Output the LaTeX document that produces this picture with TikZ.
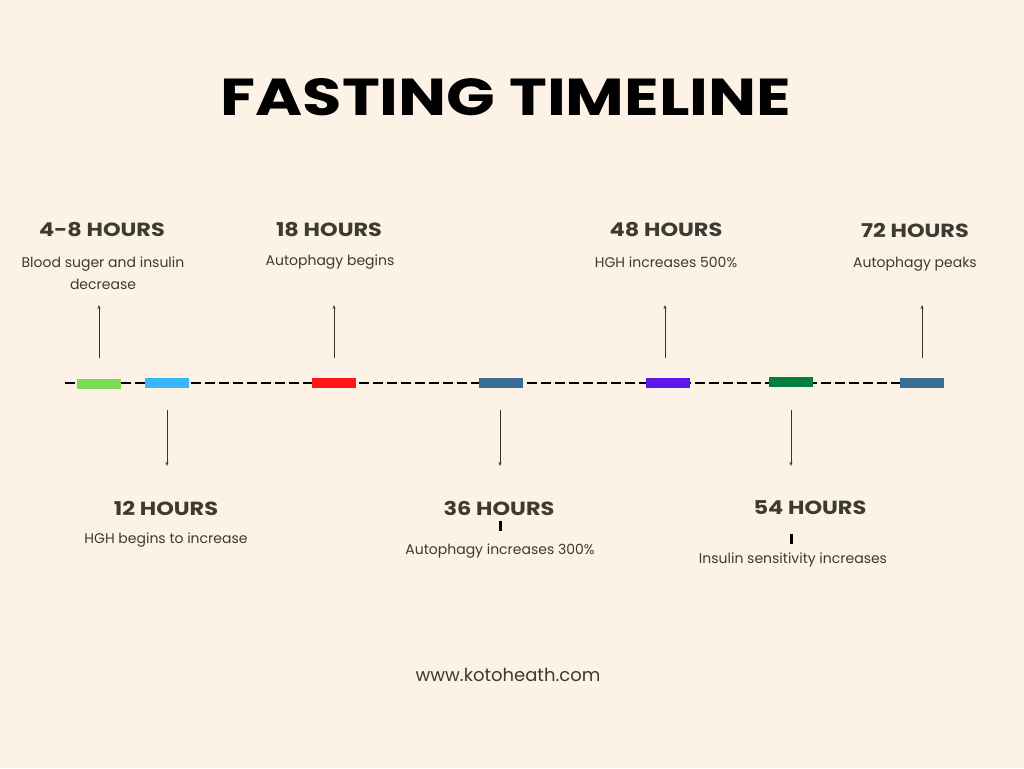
\documentclass[tikz,border=0pt]{standalone}
\usepackage{fontspec}
\usepackage{graphicx}
\setmainfont{Poppins}
\usetikzlibrary{arrows.meta}
\definecolor{bg}{HTML}{FDF2E6}
\definecolor{txt}{HTML}{3B3B32}
\definecolor{cgreen}{HTML}{7ED957}
\definecolor{cblue}{HTML}{38B6FF}
\definecolor{cred}{HTML}{FF1616}
\definecolor{csteel}{HTML}{3A6D96}
\definecolor{cpurple}{HTML}{5E17EB}
\definecolor{cdgreen}{HTML}{00803C}
\definecolor{arr}{HTML}{3A302C}
\newcommand\wideH[1]{\scalebox{1.18}[1]{#1}}
\newcommand\wideT[1]{\scalebox{1.23}[1]{#1}}
\begin{document}
\begin{tikzpicture}[x=1pt,y=-1pt,
  bar/.style={draw=none,minimum width=44pt,minimum height=10pt,inner sep=0pt},
  head/.style={font=\fontsize{19}{22}\selectfont\bfseries,text=txt,inner sep=0pt},
  desc/.style={font=\fontsize{14}{22}\selectfont,text=txt,inner sep=0pt,align=center},
  uparr/.style={arr,line width=0.9pt,-{Stealth[length=4pt,width=3pt]}},
  tick/.style={black,line width=3pt}]
\fill[bg] (0,0) rectangle (1024,768);
\useasboundingbox (0,0) rectangle (1024,768);
\node[font=\fontsize{52}{60}\selectfont\bfseries,inner sep=0pt] (title) at (506,97) {\wideT{FASTING TIMELINE}};
% timeline
\coordinate (ls) at (65,383);
\coordinate (le) at (945,383);
\draw[black,line width=2pt,dash pattern=on 10pt off 4pt] (ls) -- (le);
\node[bar,fill=cgreen] (b1) at (99,383.5) {};
\node[bar,fill=cblue] (b2) at (167,383) {};
\node[bar,fill=cred] (b3) at (334,383) {};
\node[bar,fill=csteel] (b4) at (501,383) {};
\node[bar,fill=cpurple] (b5) at (668,383) {};
\node[bar,fill=cdgreen] (b6) at (791,382) {};
\node[bar,fill=csteel] (b7) at (922,383) {};
% top labels
\node[head] (h1) at (102,230) {\wideH{4-8 HOURS}};
\node[desc] (d1) at (103,273) {Blood suger and insulin\\decrease};
\node[head] (h3) at (329,230) {\wideH{18 HOURS}};
\node[desc] (d3) at (330,262) {Autophagy begins};
\node[head] (h5) at (666,230) {\wideH{48 HOURS}};
\node[desc] (d5) at (666,262) {HGH increases 500\%};
\node[head] (h7) at (915,230) {\wideH{72 HOURS}};
\node[desc] (d7) at (915,264) {Autophagy peaks};
% bottom labels
\node[head] (h2) at (166,508) {\wideH{12 HOURS}};
\node[desc] (d2) at (166,540) {HGH begins to increase};
\node[head] (h4) at (499,508) {\wideH{36 HOURS}};
\node[desc] (d4) at (500,551) {Autophagy increases 300\%};
\node[head] (h6) at (810,508) {\wideH{54 HOURS}};
\node[desc] (d6) at (793,560) {Insulin sensitivity increases};
% arrows
\coordinate (u1) at (99,305); \coordinate (s1) at (99,358);
\coordinate (u3) at (334,305); \coordinate (s3) at (334,358);
\coordinate (u5) at (665,305); \coordinate (s5) at (665,358);
\coordinate (u7) at (922,305); \coordinate (s7) at (922,358);
\draw[uparr] (s1) -- (u1);
\draw[uparr] (s3) -- (u3);
\draw[uparr] (s5) -- (u5);
\draw[uparr] (s7) -- (u7);
\coordinate (t2) at (167,410); \coordinate (e2) at (167,466);
\coordinate (t4) at (500,410); \coordinate (e4) at (500,466);
\coordinate (t6) at (791,410); \coordinate (e6) at (791,466);
\draw[uparr] (t2) -- (e2);
\draw[uparr] (t4) -- (e4);
\draw[uparr] (t6) -- (e6);
% ticks
\coordinate (k4a) at (500,521); \coordinate (k4b) at (500,531);
\coordinate (k6a) at (791,534); \coordinate (k6b) at (791,544);
\draw[tick] (k4a) -- (k4b);
\draw[tick] (k6a) -- (k6b);
% website
\node[font=\fontsize{18}{22}\selectfont,text=txt,inner sep=0pt] (web) at (508,675) {www.kotoheath.com};
\end{tikzpicture}
\end{document}
